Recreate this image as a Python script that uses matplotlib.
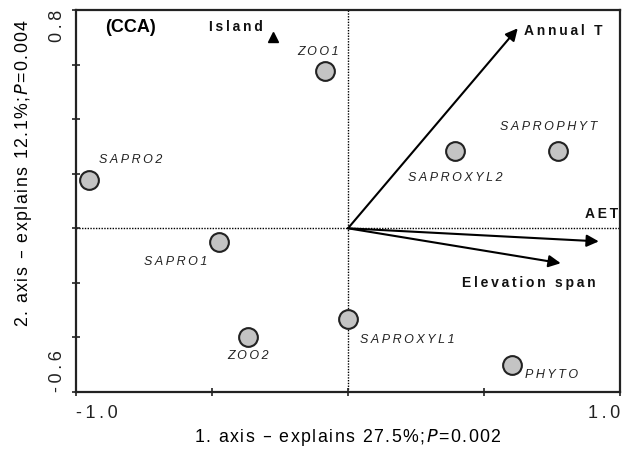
import matplotlib
matplotlib.use('Agg')
import matplotlib.pyplot as plt

plt.rcParams['font.family'] = ['Liberation Sans', 'DejaVu Sans']

# species groups (CCA scores)
groups = ['SAPRO2', 'ZOO1', 'SAPROXYL2', 'SAPROPHYT', 'SAPRO1',
          'ZOO2', 'SAPROXYL1', 'PHYTO']
group_x = [-0.952, -0.083, 0.392, 0.772, -0.473, -0.367, 0.0, 0.602]
group_y = [0.176, 0.575, 0.282, 0.282, -0.051, -0.400, -0.333, -0.502]

# nominal variable
island_x = [-0.274]
island_y = [0.700]

# environmental vectors
env_names = ['Annual T', 'AET', 'Elevation span']
env_x = [0.624, 0.922, 0.782]
env_y = [0.733, -0.048, -0.128]

x_ticks = [-1.0, -0.5, 0.0, 0.5, 1.0]
x_ticklabels = ['-1.0', '', '', '', '1.0']
y_ticks = [-0.6, -0.4, -0.2, 0.0, 0.2, 0.4, 0.6, 0.8]
y_ticklabels = ['-0.6', '', '', '', '', '', '', '0.8']

# label offsets in pixels (dx, dy), alignment
group_lab = {
    'SAPRO2': (42, 20, 'center'),
    'ZOO1': (-7, 19, 'center'),
    'SAPROXYL2': (1, -27, 'center'),
    'SAPROPHYT': (-9, 24, 'center'),
    'SAPRO1': (-44, -20, 'center'),
    'ZOO2': (0, -19, 'center'),
    'SAPROXYL1': (12, -21, 'left'),
    'PHYTO': (13, -10, 'left'),
}
env_lab = {
    'Annual T': (6, -3, 'left'),
    'AET': (19, 27, 'right'),
    'Elevation span': (35, -20, 'right'),
}


def spaced(s, sp='\u2009'):
    # mimic the wide letter spacing of the original
    return sp.join(s)


fig = plt.figure(figsize=(6.31, 4.51), dpi=100)
ax = fig.add_axes([0.1204, 0.1308, 0.8622, 0.8470])

ax.set_xlim(-1.0, 1.0)
ax.set_ylim(-0.6, 0.8)

ax.axhline(0, color='black', lw=1, ls=(0, (1, 1)), zorder=1)
ax.axvline(0, color='black', lw=1, ls=(0, (1, 1)), zorder=1)

for name, x, y in zip(env_names, env_x, env_y):
    ax.annotate('', xy=(x, y), xytext=(0, 0),
                arrowprops=dict(arrowstyle='-|>', color='black', lw=1.5,
                                mutation_scale=18, shrinkA=0, shrinkB=0),
                zorder=2)
    dx, dy, ha = env_lab[name]
    ax.annotate(spaced(name), xy=(x, y), xytext=(dx, dy),
                textcoords='offset pixels', ha=ha, va='center',
                fontsize=10, fontweight='bold', color='#111111')

ax.plot(group_x, group_y, 'o', ms=13.5, mfc='#c4c4c4', mec='#222222',
        mew=1.5, zorder=3)
for name, x, y in zip(groups, group_x, group_y):
    dx, dy, ha = group_lab[name]
    ax.annotate(spaced(name), xy=(x, y), xytext=(dx, dy),
                textcoords='offset pixels', ha=ha, va='center',
                fontsize=9, style='italic', color='#222222')

ax.plot(island_x, island_y, '^', ms=7, color='black', zorder=3)
ax.annotate(spaced('Island'), xy=(island_x[0], island_y[0]), xytext=(-11, 10),
            textcoords='offset pixels', ha='right', va='center',
            fontsize=10, fontweight='bold', color='#111111')

ax.text(0.053, 0.955, '(CCA)', transform=ax.transAxes, fontsize=13,
        fontweight='bold', ha='left', va='center')

ax.set_xticks(x_ticks)
ax.set_xticklabels([spaced(t) for t in x_ticklabels])
ax.set_yticks(y_ticks)
ax.set_yticklabels([spaced(t) for t in y_ticklabels], rotation=90)
xl = ax.get_xticklabels()
xl[0].set_ha('left')
xl[-1].set_ha('right')
yl = ax.get_yticklabels()
yl[0].set_va('bottom')
yl[-1].set_va('top')
ax.tick_params(direction='inout', length=6, width=1.2, labelsize=13,
               colors='#222222')
ax.tick_params(axis='x', pad=6)
ax.tick_params(axis='y', pad=4)

for s in ax.spines.values():
    s.set_linewidth(1.6)
    s.set_color('#222222')

hs = '\u200a'
ax.set_xlabel(spaced('1. axis \u2013 explains 27.5%;', hs) + hs + '$\\it{P}$'
              + hs + spaced('=0.002', hs), fontsize=12.8, labelpad=4)
ax.set_ylabel(spaced('2. axis \u2013 explains 12.1%;', hs) + hs + '$\\it{P}$'
              + hs + spaced('=0.004', hs), fontsize=12.8)
ax.yaxis.set_label_coords(-0.077, 0.575)

fig.savefig('out.png', dpi=100)
